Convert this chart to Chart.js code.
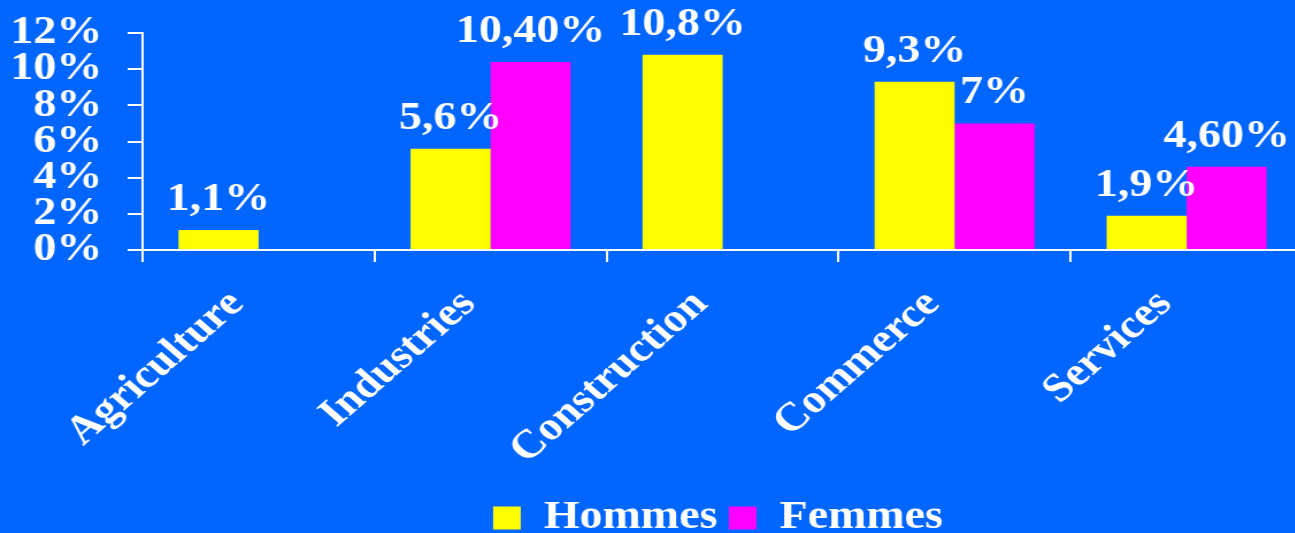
<!DOCTYPE html>
<html>
<head>
<meta charset="utf-8">
<script src="https://cdn.jsdelivr.net/npm/chart.js@4"></script>
<style>
  html, body { margin: 0; padding: 0; background: #0066ff; overflow: hidden; width: 1295px; height: 533px; }
  canvas { display: block; }
</style>
</head>
<body>
<canvas id="chart" width="1249" height="548" style="width:1436px;height:548px"></canvas>
<script>
const categories = ["Agriculture", "Industries", "Construction", "Commerce", "Services"];
const hommes = [1.1, 5.6, 10.8, 9.3, 1.9];
const femmes = [null, 10.4, null, 7, 4.6];
const hommesLabels = ["1,1%", "5,6%", "10,8%", "9,3%", "1,9%"];
const femmesLabels = ["", "10,40%", "", "7%", "4,60%"];
const yMax = 12;
const yStep = 2;

const serif = "'Liberation Serif', 'Times New Roman', serif";
Chart.defaults.font.family = serif;
Chart.defaults.font.weight = "bold";
Chart.defaults.font.size = 40;
Chart.defaults.color = "#ffffff";

// value text above each bar
const valueLabels = {
    id: "valueLabels",
    afterDatasetsDraw(chart) {
        const ctx = chart.ctx;
        ctx.save();
        ctx.font = "bold 40px " + serif;
        ctx.fillStyle = "#ffffff";
        ctx.textAlign = "center";
        ctx.textBaseline = "alphabetic";
        chart.data.datasets.forEach((ds, i) => {
            chart.getDatasetMeta(i).data.forEach((bar, j) => {
                if (ds.data[j] == null) return;
                ctx.fillText(ds.texts[j], bar.x, bar.y - 20);
            });
        });
        ctx.restore();
    }
};

new Chart(document.getElementById("chart"), {
    type: "bar",
    data: {
        labels: categories,
        datasets: [
            { label: "Hommes", data: hommes, texts: hommesLabels, backgroundColor: "#ffff00" },
            { label: "Femmes", data: femmes, texts: femmesLabels, backgroundColor: "#ff00ff" }
        ]
    },
    options: {
        responsive: false,
        animation: false,
        events: [],
        layout: { padding: 0 },
        datasets: { bar: { categoryPercentage: 0.69, barPercentage: 1.0 } },
        plugins: {
            tooltip: { enabled: false },
            legend: {
                position: "bottom",
                labels: {
                    boxWidth: 24,
                    boxHeight: 23,
                    padding: 10,
                    color: "#ffffff",
                    font: { size: 40, weight: "bold", family: serif }
                }
            }
        },
        scales: {
            x: {
                grid: { display: true, drawOnChartArea: false, drawTicks: true, tickLength: 12, color: "#ffffff", lineWidth: 2 },
                border: { display: true, color: "#ffffff", width: 2 },
                ticks: { autoSkip: false, minRotation: 45, maxRotation: 45, padding: 19, labelOffset: -19, color: "#ffffff" },
                afterFit(scale) { scale.height = 238; }
            },
            y: {
                min: 0,
                max: yMax,
                grid: { display: true, drawOnChartArea: false, drawTicks: true, tickLength: 13, color: "#ffffff", lineWidth: 2 },
                border: { display: true, color: "#ffffff", width: 2 },
                ticks: { stepSize: yStep, autoSkip: false, padding: 22, color: "#ffffff",
                         font: { size: 40, weight: "bold", family: serif, lineHeight: 0.55 },
                         callback: v => v + "%" },
                afterFit(scale) { scale.width = 124; }
            },
            yRight: {
                position: "right",
                display: true,
                grid: { display: false },
                border: { display: false },
                ticks: { display: false },
                afterFit(scale) { scale.width = 116; }
            }
        }
    },
    plugins: [valueLabels]
});
</script>
</body>
</html>
